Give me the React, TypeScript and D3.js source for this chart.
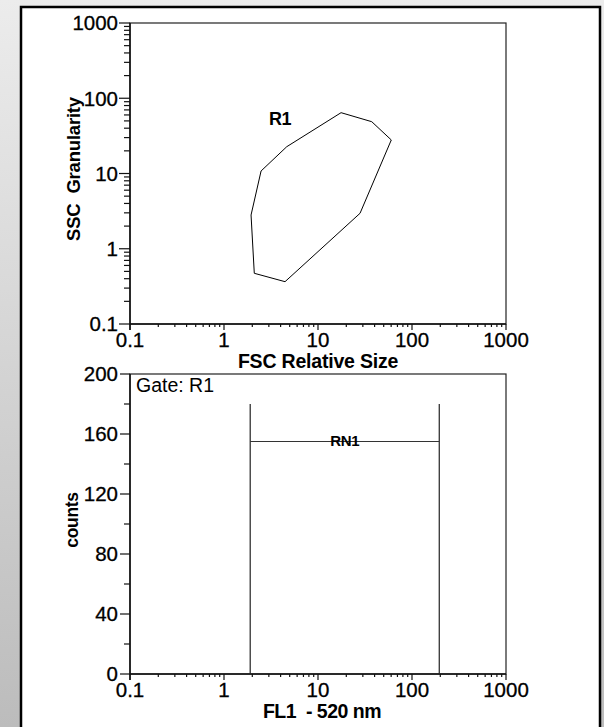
import React from "react";
import * as d3 from "d3";

// R1 gate polygon (FSC, SSC)
const gateFsc = [17.6, 37.3, 60.2, 28, 4.46, 2.1, 1.94, 2.48, 4.65];
const gateSsc = [64.3, 48.8, 27.9, 2.96, 0.365, 0.472, 2.81, 10.8, 22.7];
const gateLabel = { name: "R1", fsc: 3.94, ssc: 44 };

// RN1 marker on FL1 histogram
const markerBounds = [1.9, 195];
const markerLevel = 155;
const markerTop = 180;
const markerName = "RN1";

const logTickLabels = ["0.1", "1", "10", "100", "1000"];
const countTicks = [0, 40, 80, 120, 160, 200];

const FONT = "'Liberation Sans', Arial, sans-serif";

const x = d3.scaleLog().domain([0.1, 1000]).range([130, 506]);
const yTop = d3.scaleLog().domain([0.1, 1000]).range([324, 23]);
const yBot = d3.scaleLinear().domain([0, 200]).range([674, 374]);

const isMajor = (v: number) => Math.abs(Math.log10(v) - Math.round(Math.log10(v))) < 1e-6;

const XAxis = ({ y0 }: { y0: number }) => (
  <g>
    <line x1={130} x2={506} y1={y0} y2={y0} stroke="#111" strokeWidth={1.5} />
    {x.ticks().map((t, i) => (
      <line key={i} x1={x(t)} x2={x(t)} y1={y0} y2={y0 + (isMajor(t) ? 6 : 3)} stroke="#111" strokeWidth={1.2} />
    ))}
    {logTickLabels.map((l) => (
      <text key={l} x={x(+l)} y={y0 + 23} textAnchor="middle" fontSize={20.5} fontFamily={FONT} stroke="#000" strokeWidth={0.3}>
        {l}
      </text>
    ))}
  </g>
);

const App = () => {
  const gatePts = gateFsc.map((f, i) => [x(f), yTop(gateSsc[i])] as [number, number]);
  const gatePath = d3.line()(gatePts) + "Z";

  return (
    <svg width={604} height={727} style={{ position: "absolute", left: 0, top: 0 }}>
      <defs>
        <linearGradient id="bg" x1="0" y1="0" x2="0" y2="1">
          <stop offset="0" stopColor="#ececec" />
          <stop offset="1" stopColor="#bcbcbc" />
        </linearGradient>
      </defs>
      <rect width={604} height={727} fill="url(#bg)" />
      <rect x={21} y={7} width={579} height={740} fill="#fff" stroke="#000" strokeWidth={2.5} />

      {/* scatter plot */}
      <rect x={130} y={23} width={376} height={301} fill="none" stroke="#222" strokeWidth={1.2} />
      <line x1={130} x2={130} y1={23} y2={330} stroke="#111" strokeWidth={1.5} />
      {yTop.ticks().map((t, i) => (
        <line key={i} x1={130 - (isMajor(t) ? 11 : 6)} x2={130} y1={yTop(t)} y2={yTop(t)} stroke="#111" strokeWidth={1.2} />
      ))}
      {logTickLabels.map((l) => (
        <text key={l} x={118} y={yTop(+l)} dy="0.36em" textAnchor="end" fontSize={20.5} fontFamily={FONT} stroke="#000" strokeWidth={0.3}>
          {l}
        </text>
      ))}
      <XAxis y0={324} />
      <path d={gatePath} fill="none" stroke="#000" strokeWidth={1} />
      <text x={x(gateLabel.fsc)} y={yTop(gateLabel.ssc)} textAnchor="middle" fontSize={18} fontWeight="bold" fontFamily={FONT} letterSpacing={-0.5}>
        {gateLabel.name}
      </text>
      <text transform="translate(80,169) rotate(-90)" textAnchor="middle" fontSize={18.5} fontWeight="bold" fontFamily={FONT} letterSpacing={-0.2} xmlSpace="preserve">
        SSC  Granularity
      </text>
      <text x={318} y={368} textAnchor="middle" fontSize={19.5} fontWeight="bold" fontFamily={FONT} letterSpacing={-0.2}>
        FSC Relative Size
      </text>

      {/* histogram */}
      <rect x={130} y={374} width={376} height={300} fill="none" stroke="#222" strokeWidth={1.2} />
      <line x1={130} x2={130} y1={374} y2={680} stroke="#111" strokeWidth={1.5} />
      {yBot.ticks(10).map((t, i) => (
        <line key={i} x1={130 - (t % 40 === 0 ? 10 : 6)} x2={130} y1={yBot(t)} y2={yBot(t)} stroke="#111" strokeWidth={1.2} />
      ))}
      {countTicks.map((t) => (
        <text key={t} x={118} y={yBot(t)} dy="0.36em" textAnchor="end" fontSize={20.5} fontFamily={FONT} stroke="#000" strokeWidth={0.3}>
          {t}
        </text>
      ))}
      <XAxis y0={674} />
      {markerBounds.map((b, i) => (
        <line key={i} x1={x(b)} x2={x(b)} y1={yBot(markerTop)} y2={yBot(0)} stroke="#222" strokeWidth={1.2} />
      ))}
      <line x1={x(markerBounds[0])} x2={x(markerBounds[1])} y1={yBot(markerLevel)} y2={yBot(markerLevel)} stroke="#333" strokeWidth={1.2} />
      <text x={(x(markerBounds[0]) + x(markerBounds[1])) / 2} y={yBot(markerLevel) + 4} textAnchor="middle" fontSize={15} fontWeight="bold" fontFamily={FONT} letterSpacing={-0.3}>
        {markerName}
      </text>
      <text x={136} y={392} fontSize={19.5} fontFamily={FONT}>
        Gate: R1
      </text>
      <text transform="translate(78,520) rotate(-90)" textAnchor="middle" fontSize={17.5} fontWeight="bold" fontFamily={FONT} letterSpacing={-0.3}>
        counts
      </text>
      <text x={322} y={718} textAnchor="middle" fontSize={19.5} fontWeight="bold" fontFamily={FONT} letterSpacing={-0.5} xmlSpace="preserve">
        FL1  - 520 nm
      </text>
    </svg>
  );
};

export default App;
